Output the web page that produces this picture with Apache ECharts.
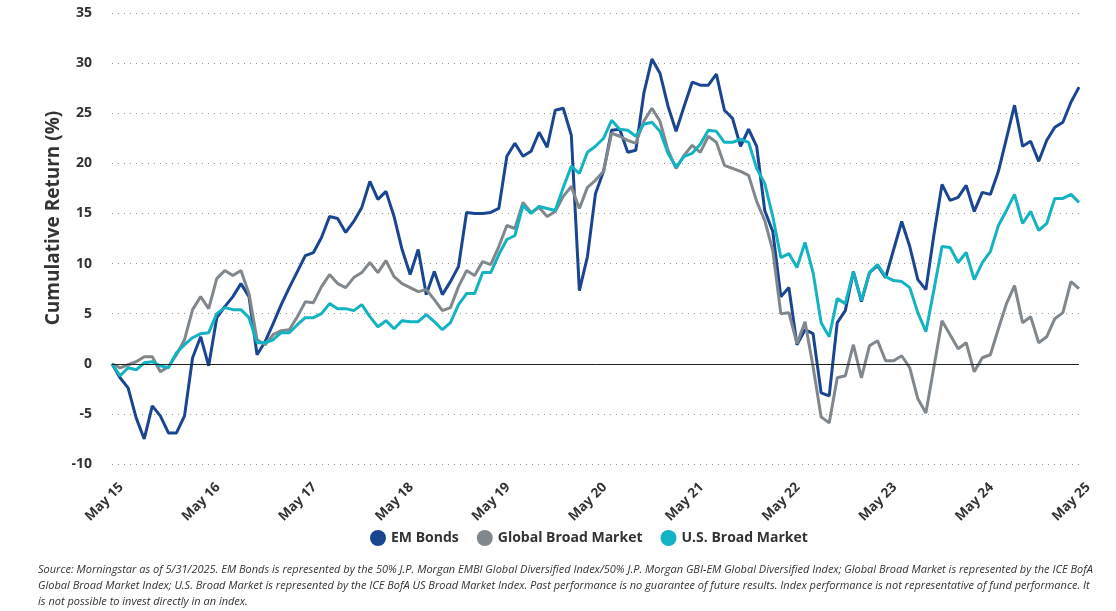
<!DOCTYPE html>
<html>
<head>
<meta charset="utf-8">
<script src="https://cdn.jsdelivr.net/npm/echarts@6/dist/echarts.min.js"></script>
<style>
  html, body { margin: 0; padding: 0; background: #fff; }
  #chart { width: 1116px; height: 611px; }
</style>
</head>
<body>
<div id="chart"></div>
<script>
// monthly points May 2015 .. May 2025
const monthNames = ['May', 'Jun', 'Jul', 'Aug', 'Sep', 'Oct', 'Nov', 'Dec', 'Jan', 'Feb', 'Mar', 'Apr']

const emBonds = [
  0, -1.4, -2.4, -5.4, -7.5, -4.2, -5.2, -6.9, -6.9, -5.2, 0.6, 2.7,
  -0.2, 4.6, 5.7, 6.7, 8.0, 6.7, 0.9, 2.2, 4.0, 5.9, 7.6, 9.2,
  10.8, 11.1, 12.6, 14.7, 14.5, 13.1, 14.2, 15.6, 18.2, 16.4, 17.2, 14.7,
  11.4, 8.9, 11.4, 6.9, 9.2, 6.9, 8.2, 9.7, 15.1, 15.0, 15.0, 15.1,
  15.5, 20.7, 22.0, 20.7, 21.2, 23.1, 21.6, 25.3, 25.5, 22.8, 7.3, 10.7,
  17.0, 19.2, 23.3, 23.4, 21.1, 21.3, 27.0, 30.4, 29.0, 25.7, 23.2, 25.7,
  28.1, 27.8, 27.8, 28.9, 25.3, 24.5, 21.7, 23.4, 21.7, 15.3, 13.2, 6.7,
  7.6, 1.9, 3.4, 3.0, -2.9, -3.2, 4.1, 5.3, 9.2, 6.2, 9.1, 9.8,
  8.6, 11.4, 14.2, 11.7, 8.4, 7.4, 12.9, 17.9, 16.3, 16.6, 17.8, 15.2,
  17.1, 16.9, 19.2, 22.5, 25.8, 21.7, 22.2, 20.2, 22.3, 23.6, 24.1, 26.1,
  27.6
]

const globalBroad = [
  0, -0.4, -0.1, 0.2, 0.7, 0.7, -0.8, -0.3, 0.9, 2.4, 5.4, 6.7,
  5.5, 8.5, 9.3, 8.8, 9.3, 7.0, 2.4, 1.9, 2.9, 3.3, 3.4, 4.7,
  6.2, 6.1, 7.7, 8.9, 8.0, 7.6, 8.6, 9.1, 10.1, 9.1, 10.3, 8.7,
  8.0, 7.6, 7.2, 7.4, 6.4, 5.3, 5.6, 7.7, 9.3, 8.8, 10.2, 9.9,
  11.7, 13.8, 13.5, 16.1, 15.1, 15.6, 14.7, 15.2, 16.7, 17.7, 15.5, 17.6,
  18.3, 19.2, 23.0, 22.7, 22.3, 22.0, 24.2, 25.5, 24.2, 21.3, 19.5, 20.8,
  21.8, 21.1, 22.7, 22.1, 19.8, 19.5, 19.2, 18.8, 16.2, 14.3, 11.3, 5.0,
  5.1, 2.0, 4.2, -0.3, -5.3, -5.9, -1.4, -1.2, 1.9, -1.4, 1.8, 2.3,
  0.3, 0.3, 0.8, -0.4, -3.5, -4.9, -0.3, 4.3, 2.9, 1.5, 2.1, -0.8,
  0.6, 0.9, 3.5, 6.0, 7.8, 4.1, 4.7, 2.1, 2.7, 4.5, 5.1, 8.2,
  7.5
]

const usBroad = [
  0, -1.2, -0.4, -0.6, 0.1, 0.2, -0.2, -0.4, 1.1, 1.9, 2.6, 3.0,
  3.1, 5.0, 5.6, 5.4, 5.4, 4.6, 2.1, 2.1, 2.4, 3.1, 3.1, 3.9,
  4.6, 4.6, 5.0, 6.0, 5.5, 5.5, 5.3, 5.9, 4.7, 3.7, 4.3, 3.5,
  4.3, 4.2, 4.2, 4.9, 4.2, 3.4, 4.1, 5.9, 7.0, 7.0, 9.1, 9.1,
  10.9, 12.4, 12.8, 15.8, 15.0, 15.7, 15.5, 15.3, 17.6, 19.7, 19.0, 21.1,
  21.7, 22.5, 24.3, 23.4, 23.3, 22.7, 23.9, 24.1, 23.2, 21.0, 19.6, 20.7,
  21.0, 21.9, 23.3, 23.2, 22.1, 22.1, 22.4, 22.1, 19.5, 18.0, 14.7, 10.6,
  11.0, 9.6, 12.1, 9.1, 4.1, 2.7, 6.5, 6.0, 9.2, 6.3, 9.1, 9.9,
  8.7, 8.3, 8.2, 7.6, 5.1, 3.2, 7.4, 11.7, 11.6, 10.1, 11.1, 8.4,
  10.1, 11.2, 13.8, 15.3, 16.9, 14.0, 15.2, 13.3, 14.0, 16.5, 16.5, 16.9,
  16.1
]

const footnote = [
  'Source: Morningstar as of 5/31/2025. EM Bonds is represented by the 50% J.P. Morgan EMBI Global Diversified Index/50% J.P. Morgan GBI-EM Global Diversified Index; Global Broad Market is represented by the ICE BofA',
  'Global Broad Market Index; U.S. Broad Market is represented by the ICE BofA US Broad Market Index. Past performance is no guarantee of future results. Index performance is not representative of fund performance. It',
  'is not possible to invest directly in an index.'
]

// category labels, one per month
const months = []
for (let i = 0; i < emBonds.length; i++) {
  const m = monthNames[i % 12]
  const yr = String(15 + Math.floor((i + 4) / 12)).padStart(2, '0')
  months.push(m + ' ' + yr)
}

const font = '"Open Sans", "Noto Sans", sans-serif'
const textColor = '#333'

const chart = echarts.init(document.getElementById('chart'))

const lineSeries = (name, data, color) => ({
  name: name,
  type: 'line',
  data: data,
  symbol: 'none',
  smooth: false,
  lineStyle: { color: color, width: 3 },
  itemStyle: { color: color },
  z: 3
})

const option = {
  animation: false,
  textStyle: { fontFamily: font },
  grid: {
    left: 112,
    right: 37,
    top: 13,
    bottom: 147,
    containLabel: false
  },
  legend: {
    top: 525,
    left: 365,
    icon: 'circle',
    itemWidth: 16,
    itemHeight: 16,
    itemGap: 18,
    textStyle: {
      fontFamily: font,
      fontSize: 14,
      fontWeight: 'bold',
      color: textColor
    },
    data: ['EM Bonds', 'Global Broad Market', 'U.S. Broad Market']
  },
  xAxis: {
    type: 'category',
    data: months,
    boundaryGap: false,
    axisLine: { show: false, onZero: false },
    axisTick: { show: false },
    splitLine: { show: false },
    axisLabel: {
      interval: 11,
      rotate: 45,
      margin: 12,
      verticalAlign: 'top',
      padding: [6, 0, 0, 0],
      fontFamily: font,
      fontSize: 13.5,
      fontWeight: 'bold',
      color: textColor
    }
  },
  yAxis: {
    type: 'value',
    min: -10,
    max: 35,
    interval: 5,
    axisLine: { show: false },
    axisTick: { show: false },
    axisLabel: {
      margin: 20,
      fontFamily: font,
      fontSize: 14,
      fontWeight: 'bold',
      color: textColor
    },
    splitLine: {
      show: true,
      lineStyle: { color: '#999', type: [1, 5], width: 1 }
    }
  },
  graphic: [
    {
      type: 'text',
      x: 54,
      y: 218,
      rotation: Math.PI / 2,
      style: {
        text: 'Cumulative Return (%)',
        fontFamily: font,
        fontSize: 19,
        fontWeight: 'bold',
        fill: textColor,
        textAlign: 'center',
        textVerticalAlign: 'middle'
      }
    }
  ].concat(footnote.map((line, i) => ({
    type: 'text',
    left: 38,
    top: 564 + i * 16,
    style: {
      text: line,
      fontFamily: font,
      fontSize: 11,
      fontStyle: 'italic',
      fill: textColor
    }
  }))),
  series: [
    Object.assign(lineSeries('EM Bonds', emBonds, '#1a4590'), {
      markLine: {
        silent: true,
        symbol: 'none',
        label: { show: false },
        lineStyle: { color: '#222', width: 1, type: 'solid' },
        data: [{ yAxis: 0 }]
      }
    }),
    lineSeries('Global Broad Market', globalBroad, '#80878d'),
    lineSeries('U.S. Broad Market', usBroad, '#13b3c2')
  ]
}

chart.setOption(option)
</script>
</body>
</html>
